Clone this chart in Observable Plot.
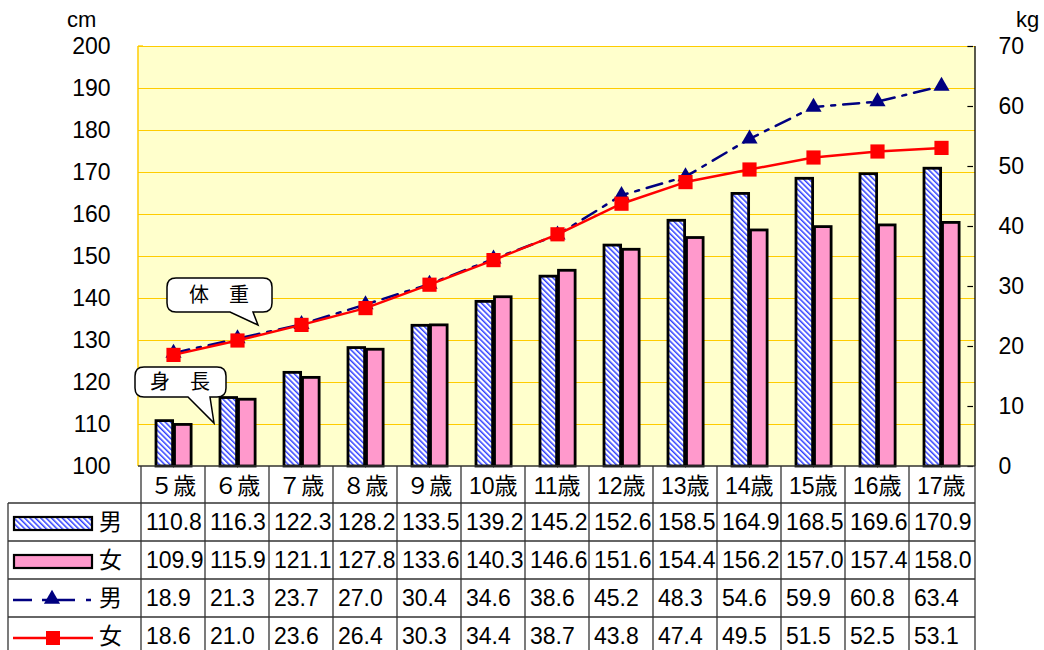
<!DOCTYPE html>
<html><head><meta charset="utf-8">
<script src="https://cdn.jsdelivr.net/npm/d3@7"></script>
<script src="https://cdn.jsdelivr.net/npm/@observablehq/plot@0.6"></script>
<style>body{margin:0;background:#fff} #chart{width:1044px;height:650px}</style>
</head><body><div id="chart"></div>
<script>
const ages = ["５歳","６歳","７歳","８歳","９歳","10歳","11歳","12歳","13歳","14歳","15歳","16歳","17歳"];
const heightMale   = [110.8,116.3,122.3,128.2,133.5,139.2,145.2,152.6,158.5,164.9,168.5,169.6,170.9];
const heightFemale = [109.9,115.9,121.1,127.8,133.6,140.3,146.6,151.6,154.4,156.2,157.0,157.4,158.0];
const weightMale   = [18.9,21.3,23.7,27.0,30.4,34.6,38.6,45.2,48.3,54.6,59.9,60.8,63.4];
const weightFemale = [18.6,21.0,23.6,26.4,30.3,34.4,38.7,43.8,47.4,49.5,51.5,52.5,53.1];
const cmTicks = [100,110,120,130,140,150,160,170,180,190,200];
const kgTicks = [0,10,20,30,40,50,60,70];
const seriesNames = ["男","女","男","女"];
const calloutWeight = "体　重";
const calloutHeight = "身　長";

const kgToCm = k => 100 + k * (100 / 70);
const cmToKg = c => Math.round((c - 100) * 0.7);
const rows = ages.map((age, i) => ({age, hm: heightMale[i], hf: heightFemale[i], wm: weightMale[i], wf: weightFemale[i]}));

const W = 1044, H = 650, ML = 138, MR = 69, MT = 46, MB = 184;
const bw = (W - ML - MR) / ages.length;
const font = "'Liberation Sans','Noto Sans CJK JP',sans-serif";
const NAVY = "#000080", RED = "#FF0000", PINK = "#FF99CC", GOLD = "#FFCC00", DASH = "16,8,4,8";

const plot = Plot.plot({
  width: W, height: H, marginLeft: ML, marginRight: MR, marginTop: MT, marginBottom: MB,
  style: {fontFamily: font, background: "transparent", color: "#000", overflow: "visible"},
  x: {domain: ages, padding: 0, axis: null},
  y: {domain: [100, 200], axis: null},
  marks: [
    Plot.frame({fill: "#FFFFCC", stroke: null}),
    Plot.ruleY(cmTicks.slice(1), {stroke: GOLD, strokeWidth: 1.2}),
    Plot.axisY(cmTicks, {anchor: "left", tickSize: 0, tickPadding: 28, fontSize: 23, label: null}),
    Plot.axisY(kgTicks.map(kgToCm), {anchor: "right", tickSize: 0, tickPadding: 23, fontSize: 23, label: null, tickFormat: cmToKg}),
    Plot.tickY(kgTicks.map(kgToCm), {x: () => ages[ages.length - 1], insetLeft: bw - 6, stroke: "#000", strokeWidth: 1.2}),
    Plot.barY(rows, {x: "age", y1: 100, y2: "hm", insetLeft: 15, insetRight: bw - 32, fill: "url(#hatch)", stroke: "#000", strokeWidth: 2.8}),
    Plot.barY(rows, {x: "age", y1: 100, y2: "hf", insetLeft: 33.5, insetRight: bw - 50.5, fill: PINK, stroke: "#000", strokeWidth: 2.8}),
    Plot.line(rows, {x: "age", y: d => kgToCm(d.wm), stroke: NAVY, strokeWidth: 2.5, strokeDasharray: DASH}),
    Plot.dot(rows, {x: "age", y: d => kgToCm(d.wm), symbol: "triangle", r: 6, fill: NAVY}),
    Plot.line(rows, {x: "age", y: d => kgToCm(d.wf), stroke: RED, strokeWidth: 2.5}),
    Plot.dot(rows, {x: "age", y: d => kgToCm(d.wf), symbol: "square", r: 8, fill: RED})
  ]
});
document.getElementById("chart").appendChild(plot);

const svg = d3.select(plot);
svg.insert("defs", ":first-child").html(
  `<pattern id="hatch" patternUnits="userSpaceOnUse" width="3.8" height="3.8" patternTransform="rotate(-45)">
     <rect width="3.8" height="3.8" fill="#fff"/><rect width="1.5" height="3.8" fill="#3040FF"/></pattern>`);

const xs = plot.scale("x");
const [X0, X1] = xs.range;
const yBottom = H - MB, yTop = MT;
const g = svg.append("g").attr("font-family", font).attr("text-anchor", "start").attr("fill", "#000");

// axis lines
g.append("line").attr("x1", X0).attr("x2", X0).attr("y1", yTop).attr("y2", yBottom).attr("stroke", GOLD).attr("stroke-width", 1.5);
g.append("line").attr("x1", X1).attr("x2", X1).attr("y1", yTop).attr("y2", yBottom).attr("stroke", "#000").attr("stroke-width", 1.3);
g.append("line").attr("x1", X0).attr("x2", X0 + 5).attr("y1", yTop).attr("y2", yTop).attr("stroke", GOLD).attr("stroke-width", 1.3);
// unit labels
g.append("text").attr("x", 67).attr("y", 27).attr("font-size", 22).text("cm");
g.append("text").attr("x", 1016).attr("y", 27).attr("font-size", 22).text("kg");

// table
const lineC = "#333", lw = 1.3;
const rowLines = [yBottom, 503, 541, 579, 617];
const rowCenters = [522, 560, 598, 636];
const legendLeft = 8;
g.append("line").attr("x1", X0).attr("x2", X1).attr("y1", yBottom).attr("y2", yBottom).attr("stroke", lineC).attr("stroke-width", lw);
rowLines.slice(1).forEach(y => g.append("line").attr("x1", legendLeft).attr("x2", X1).attr("y1", y).attr("y2", y).attr("stroke", lineC).attr("stroke-width", lw));
g.append("line").attr("x1", legendLeft).attr("x2", legendLeft).attr("y1", rowLines[1]).attr("y2", H).attr("stroke", lineC).attr("stroke-width", lw);
ages.forEach(a => g.append("line").attr("x1", xs.apply(a)).attr("x2", xs.apply(a)).attr("y1", yBottom).attr("y2", H).attr("stroke", lineC).attr("stroke-width", lw));
g.append("line").attr("x1", X1).attr("x2", X1).attr("y1", yBottom).attr("y2", H).attr("stroke", lineC).attr("stroke-width", lw);

ages.forEach(a => g.append("text").attr("x", xs.apply(a) + bw / 2).attr("y", 486).attr("text-anchor", "middle")
  .attr("dominant-baseline", "central").attr("font-size", 23).text(a));

const tableSeries = [heightMale, heightFemale, weightMale, weightFemale];
tableSeries.forEach((vals, r) => {
  vals.forEach((v, i) => g.append("text").attr("x", xs.apply(ages[i]) + 5).attr("y", rowCenters[r])
    .attr("dominant-baseline", "central").attr("font-size", 23).text(v.toFixed(1)));
  g.append("text").attr("x", 99).attr("y", rowCenters[r]).attr("dominant-baseline", "central")
    .attr("font-size", 23).text(seriesNames[r]);
});
// legend icons
g.append("rect").attr("x", 14).attr("y", rowCenters[0] - 5).attr("width", 78).attr("height", 13).attr("fill", "url(#hatch)").attr("stroke", "#000").attr("stroke-width", 2.2);
g.append("rect").attr("x", 14).attr("y", rowCenters[1] - 5).attr("width", 78).attr("height", 13).attr("fill", PINK).attr("stroke", "#000").attr("stroke-width", 2.2);
g.append("line").attr("x1", 13).attr("x2", 92).attr("y1", rowCenters[2] + 2).attr("y2", rowCenters[2] + 2).attr("stroke", NAVY).attr("stroke-width", 2.5).attr("stroke-dasharray", "19,10,33,11,5");
g.append("path").attr("d", d3.symbol(d3.symbolTriangle, Math.PI * 36)()).attr("transform", `translate(52,${rowCenters[2] + 1})`).attr("fill", NAVY);
g.append("line").attr("x1", 13).attr("x2", 93).attr("y1", rowCenters[3] + 2).attr("y2", rowCenters[3] + 2).attr("stroke", RED).attr("stroke-width", 2.5);
g.append("rect").attr("x", 46).attr("y", rowCenters[3] - 5).attr("width", 14).attr("height", 14).attr("fill", RED);

// callouts
function callout(x0, y0, x1, y1, b1, b2, tx, ty, r) {
  return `M${x0 + r},${y0} H${x1 - r} Q${x1},${y0} ${x1},${y0 + r} V${y1 - r} Q${x1},${y1} ${x1 - r},${y1}
    H${b2} L${tx},${ty} L${b1},${y1} H${x0 + r} Q${x0},${y1} ${x0},${y1 - r} V${y0 + r} Q${x0},${y0} ${x0 + r},${y0} Z`;
}
g.append("path").attr("d", callout(167, 278, 272, 312, 230, 253, 258, 325, 9)).attr("fill", "#fff").attr("stroke", "#000").attr("stroke-width", 1.5);
g.append("text").attr("x", 219).attr("y", 295).attr("text-anchor", "middle").attr("dominant-baseline", "central").attr("font-size", 20).text(calloutWeight);
g.append("path").attr("d", callout(135, 367, 226, 397, 188, 210, 214, 423, 9)).attr("fill", "#fff").attr("stroke", "#000").attr("stroke-width", 1.5);
g.append("text").attr("x", 180).attr("y", 382).attr("text-anchor", "middle").attr("dominant-baseline", "central").attr("font-size", 20).text(calloutHeight);
</script>
</body></html>
